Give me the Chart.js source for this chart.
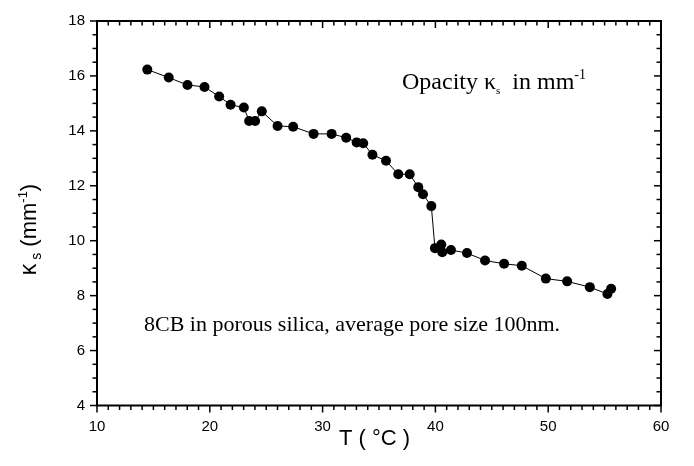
<!DOCTYPE html>
<html>
<head>
<meta charset="utf-8">
<script src="https://cdn.jsdelivr.net/npm/chart.js@4.4.1/dist/chart.umd.min.js"></script>
<style>
  html, body { margin: 0; padding: 0; background: #fff; }
  #wrap { width: 694px; height: 466px; }
</style>
</head>
<body>
<div id="wrap"><canvas id="chart" width="694" height="466"></canvas></div>
<script>
// temperature T (°C) and opacity κs (mm^-1)
const temperature = [
  14.46, 16.36, 18.02, 19.53, 20.83, 21.84, 23.02, 23.49, 24.02, 24.61,
  26.01, 27.39, 29.2, 30.8, 32.09, 33.02, 33.6, 34.42, 35.62, 36.71,
  37.72, 38.48, 38.9, 39.64, 39.96, 40.52, 40.61, 41.38, 42.8, 44.4,
  46.09, 47.66, 49.79, 51.68, 53.69, 55.25, 55.58
];
const opacity = [
  16.23, 15.94, 15.67, 15.6, 15.25, 14.95, 14.85, 14.36, 14.36, 14.71,
  14.18, 14.15, 13.89, 13.89, 13.75, 13.58, 13.55, 13.13, 12.91, 12.42,
  12.42, 11.95, 11.69, 11.26, 9.73, 9.86, 9.58, 9.66, 9.55, 9.28,
  9.16, 9.09, 8.62, 8.52, 8.31, 8.06, 8.25
];
const xTicks = [10, 20, 30, 40, 50, 60];
const yTicks = [4, 6, 8, 10, 12, 14, 16, 18];

const SANS = "'Liberation Sans', Arial, sans-serif";
const SERIF = "'Liberation Serif', 'Times New Roman', serif";

/* ===============================
   FRAME + TICK MARKS
================================ */

const frameTicks = {
  id: "frameTicks",
  afterDraw(chart) {
    const { ctx, chartArea: a, scales: { x, y } } = chart;
    ctx.save();
    ctx.strokeStyle = "#000";

    const seg = (x1, y1, x2, y2) => {
      ctx.beginPath();
      ctx.moveTo(x1, y1);
      ctx.lineTo(x2, y2);
      ctx.stroke();
    };

    ctx.lineWidth = 1.5;
    for (let v = x.min; v <= x.max; v += 1) {
      const px = x.getPixelForValue(v);
      const len = v % 10 === 0 ? 7 : 4.5;
      seg(px, a.bottom, px, a.bottom + len);
      seg(px, a.top, px, a.top + len);
    }
    for (let v = y.min; v <= y.max; v += 0.5) {
      const py = y.getPixelForValue(v);
      const len = v % 2 === 0 ? 7 : 4.5;
      seg(a.left, py, a.left - len, py);
      seg(a.right, py, a.right - len, py);
    }

    ctx.lineWidth = 2;
    ctx.strokeRect(a.left, a.top, a.right - a.left, a.bottom - a.top);
    ctx.restore();
  }
};

/* ===============================
   TITLES + NOTES
================================ */

function drawRuns(ctx, runs, x, baseline) {
  let cx = x;
  runs.forEach(r => {
    ctx.font = r.font;
    ctx.fillText(r.text, cx, baseline + (r.dy || 0));
    cx += ctx.measureText(r.text).width;
  });
}

function runsWidth(ctx, runs) {
  return runs.reduce((w, r) => {
    ctx.font = r.font;
    return w + ctx.measureText(r.text).width;
  }, 0);
}

const labels = {
  id: "labels",
  afterDraw(chart) {
    const { ctx } = chart;
    ctx.save();
    ctx.fillStyle = "#000";
    ctx.textBaseline = "alphabetic";
    ctx.textAlign = "left";

    // x title
    const xt = [{ text: "T ( °C )", font: `22px ${SANS}` }];
    drawRuns(ctx, xt, 374.5 - runsWidth(ctx, xt) / 2, 445);

    // y title, rotated
    const yt = [
      { text: "κ", font: `23px ${SANS}` },
      { text: " s", font: `14px ${SANS}`, dy: 5 },
      { text: " (mm", font: `22px ${SANS}` },
      { text: "-1", font: `13px ${SANS}`, dy: -9 },
      { text: ")", font: `22px ${SANS}` }
    ];
    ctx.save();
    ctx.translate(36, 229.5);
    ctx.rotate(-Math.PI / 2);
    drawRuns(ctx, yt, -runsWidth(ctx, yt) / 2, 0);
    ctx.restore();

    // note in the upper right
    drawRuns(ctx, [
      { text: "Opacity κ", font: `24px ${SERIF}` },
      { text: "s", font: `11px ${SERIF}`, dy: 5 },
      { text: "  in mm", font: `24px ${SERIF}` },
      { text: "-1", font: `14px ${SERIF}`, dy: -10 }
    ], 402, 89);

    ctx.font = `22px ${SERIF}`;
    ctx.fillText("8CB in porous silica, average pore size 100nm.", 144, 331);
    ctx.restore();
  }
};

/* ===============================
   CHART
================================ */

const points = temperature.map((t, i) => ({ x: t, y: opacity[i] }));

new Chart(document.getElementById("chart"), {
  type: "scatter",
  data: {
    datasets: [{
      data: points,
      showLine: true,
      borderColor: "#000",
      borderWidth: 1,
      pointRadius: 5,
      pointBackgroundColor: "#000",
      pointBorderWidth: 0
    }]
  },
  options: {
    responsive: false,
    animation: false,
    layout: { padding: { top: 10, right: 33, left: 0, bottom: 0 } },
    plugins: {
      legend: { display: false },
      tooltip: { enabled: false }
    },
    scales: {
      x: {
        type: "linear",
        min: 10,
        max: 60,
        afterBuildTicks: s => { s.ticks = xTicks.map(v => ({ value: v })); },
        afterFit: s => { s.height = 60.5; },
        grid: { display: false, drawTicks: false },
        border: { display: false },
        ticks: {
          color: "#000",
          font: { family: SANS, size: 15 },
          padding: 12,
          maxRotation: 0
        }
      },
      y: {
        type: "linear",
        min: 4,
        max: 18,
        afterBuildTicks: s => { s.ticks = yTicks.map(v => ({ value: v })); },
        afterFit: s => { s.width = 97; },
        grid: { display: false, drawTicks: false },
        border: { display: false },
        ticks: {
          color: "#000",
          font: { family: SANS, size: 15 },
          padding: 12
        }
      }
    }
  },
  plugins: [frameTicks, labels]
});
</script>
</body>
</html>
